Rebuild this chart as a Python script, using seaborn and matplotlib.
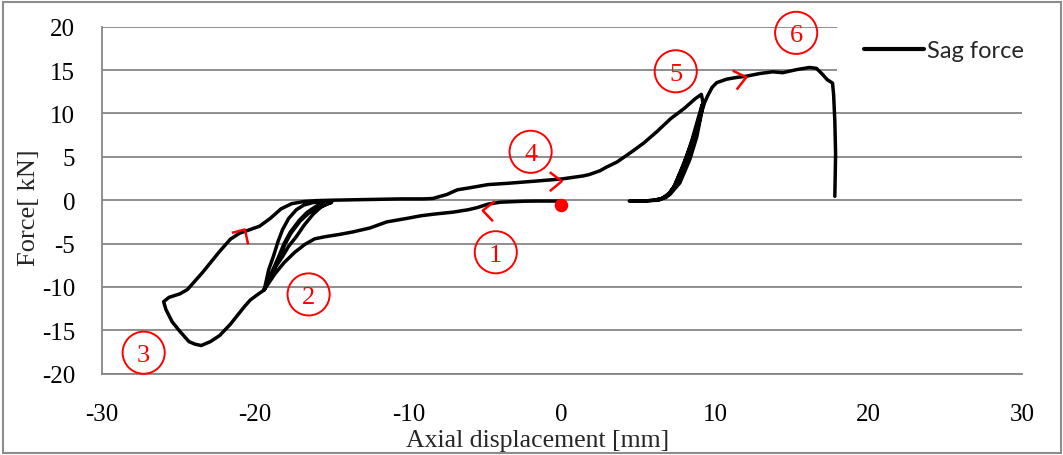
import matplotlib
matplotlib.use("Agg")
import matplotlib.pyplot as plt
import seaborn as sns
import pandas as pd
from matplotlib.patches import Rectangle

# Load path of the sag test: axial displacement [mm] and force [kN], in test order
disp = [
    0.0, -1.7, -2.5, -4.0, -4.8, -5.5, -6.1, -7.1, -8.3, -9.2, -10.1, -11.4, -12.5,
    -13.6, -14.5, -15.4, -16.1, -16.75, -17.4, -18.1, -18.7, -19.15, -19.4,
    # small unload / reload cycles near step 2
    -19.3, -19.1, -18.8, -18.5, -18.2, -17.8, -17.3, -16.8, -16.2, -15.5,
    -15.7, -16.1, -16.6, -17.1, -17.7, -18.1, -18.45, -18.9, -19.4,
    -19.1, -18.7, -18.2, -17.8, -17.3, -16.8, -16.2, -15.7, -15.3, -15.0,
    -15.4, -15.9, -16.5, -17.05, -17.65, -18.05, -18.4, -18.85, -19.4,
    # push on to step 3 and return
    -19.84, -20.3, -20.7, -21.2, -21.6, -22.3, -22.9, -23.5, -23.9, -24.3, -24.9,
    -25.4, -25.8, -25.95, -25.6, -24.9, -24.4, -24.0, -23.4, -22.9, -22.3, -21.6,
    -21.0, -20.5, -19.7, -19.0, -18.3, -17.6, -16.8, -16.0, -15.0, -13.6, -12.0,
    -10.5, -9.0, -8.4, -7.5, -6.8, -6.1, -4.8, -3.5, -1.7, 0.0, 1.4, 1.8, 2.5, 2.9,
    3.6, 4.5, 5.35, 6.2, 7.1, 8.0, 8.7, 9.1,
    # unload / reload cycles near step 5
    9.2, 9.15, 8.8, 8.35, 7.7, 7.05, 6.4, 5.5, 4.4,
    5.4, 6.3, 6.9, 7.4, 8.0, 8.5, 8.9, 9.15,
    9.0, 8.7, 8.2, 7.6, 7.0, 6.5, 6.0,
    6.8, 7.3, 7.85, 8.4, 8.9, 9.3, 9.5, 9.8, 10.1, 10.75, 11.4, 12.05, 12.9,
    13.75, 14.4, 15.3, 16.15, 16.6, 17.0, 17.3, 17.65, 17.72, 17.8, 17.85, 17.8,
]
force = [
    -0.1, -0.1, -0.12, -0.23, -0.45, -0.85, -1.1, -1.38, -1.6, -1.8, -2.1, -2.5, -3.2,
    -3.65, -3.95, -4.2, -4.45, -5.1, -6.0, -7.2, -8.5, -9.7, -10.35,
    -9.6, -8.0, -6.5, -4.8, -3.4, -2.1, -1.1, -0.55, -0.27, -0.15,
    -0.4, -0.8, -1.4, -2.3, -3.7, -5.0, -6.5, -8.3, -10.35,
    -9.3, -7.8, -6.5, -5.3, -4.2, -2.9, -1.6, -0.8, -0.45, -0.25,
    -0.5, -0.9, -1.5, -2.4, -3.8, -5.1, -6.6, -8.4, -10.35,
    -10.9, -11.5, -12.3, -13.4, -14.3, -15.6, -16.3, -16.75, -16.6, -16.3, -15.1,
    -14.0, -12.6, -11.7, -11.2, -10.8, -10.3, -9.5, -8.3, -7.2, -5.9, -4.5,
    -3.8, -3.5, -3.0, -2.1, -1.0, -0.4, -0.15, -0.05, 0.0, 0.05, 0.1,
    0.15, 0.15, 0.2, 0.65, 1.2, 1.4, 1.8, 1.95, 2.2, 2.45, 2.8, 2.96, 3.4, 3.8,
    4.4, 5.5, 6.6, 7.9, 9.4, 10.6, 11.7, 12.2,
    11.3, 10.4, 7.3, 4.7, 2.0, 0.66, 0.08, -0.08, -0.1,
    -0.08, 0.0, 0.5, 1.8, 4.3, 7.0, 9.5, 11.0,
    9.3, 7.1, 4.5, 2.1, 0.8, 0.15, 0.0,
    0.3, 1.5, 3.8, 6.3, 8.9, 11.2, 12.0, 13.0, 13.55, 13.95, 14.15, 14.3, 14.6,
    14.8, 14.7, 15.05, 15.3, 15.2, 14.5, 13.9, 13.5, 12.2, 9.1, 5.3, 0.45,
]
series_name = "Sag force"

# Step markers (circled numbers) and direction chevrons
step_labels = ["1", "2", "3", "4", "5", "6"]
step_x = [-4.3, -16.5, -27.25, -2.03, 7.43, 15.28]
step_y = [-6.0, -10.86, -17.58, 5.58, 14.86, 19.29]
chevrons = [
    ([-4.36, -5.15, -4.49], [-0.12, -1.19, -2.42]),
    ([-21.5, -20.65, -20.44], [-3.76, -3.38, -5.1]),
    ([-0.78, 0.0, -0.78], [3.23, 2.19, 1.04]),
    ([11.14, 12.03, 11.4], [14.94, 14.17, 12.75]),
]
start_x, start_y = -0.07, -0.5

x_ticks = [-30, -20, -10, 0, 10, 20, 30]
y_ticks = [-20, -15, -10, -5, 0, 5, 10, 15, 20]

sns.set_theme(style="white")
plt.rcParams["font.family"] = ["Liberation Serif", "DejaVu Serif"]
plt.rcParams["axes.unicode_minus"] = False

W, H = 1063, 456
fig = plt.figure(figsize=(W / 100, H / 100), dpi=100)
ax = fig.add_axes([101.5 / W, 1 - 374.7 / H, (1022 - 101.5) / W, (374.7 - 27.7) / H])

df = pd.DataFrame({"disp": disp, "force": force})
sns.lineplot(data=df, x="disp", y="force", sort=False, estimator=None,
             color="black", lw=2.5, label=series_name, ax=ax, zorder=3)

grey = "#868686"
ax.set_xlim(-30, 30)
ax.set_ylim(-20, 20)
ax.set_xticks(x_ticks)
ax.set_yticks(y_ticks)
ax.yaxis.grid(True, color=grey, lw=1.3)
ax.xaxis.grid(False)
for side in ("top", "right"):
    ax.spines[side].set_visible(False)
for side in ("left", "bottom"):
    ax.spines[side].set_color(grey)
    ax.spines[side].set_linewidth(1.3)
ax.tick_params(axis="both", which="major", direction="out", length=6, width=1.3,
               color=grey, labelsize=18, labelcolor="black")
ax.tick_params(axis="x", pad=15)
ax.tick_params(axis="y", pad=13)
ax.set_xlabel("Axial displacement [mm]", fontsize=18.5)
ax.set_ylabel("Force[ kN]", fontsize=19)
ax.xaxis.set_label_coords(0.474, -0.19)
ax.xaxis.label.set_va("center")
ax.yaxis.set_label_coords(-0.079, 0.48)
ax.yaxis.label.set_va("center")
ax.yaxis.label.set_ha("center")

# step circles and numbers
ax.scatter(step_x, step_y, s=920, facecolors="none", edgecolors="red",
           linewidths=1.4, clip_on=False, zorder=4)
for lab, sx, sy in zip(step_labels, step_x, step_y):
    ax.text(sx, sy, lab, color="red", fontsize=19, ha="center", va="center_baseline",
            zorder=5, clip_on=False)
for cx, cy in chevrons:
    ax.plot(cx, cy, color="red", lw=1.8, zorder=4, solid_capstyle="butt")
ax.scatter([start_x], [start_y], s=95, color="red", zorder=5, linewidths=0)

leg = ax.legend(loc="upper left", bbox_to_anchor=(837 / W, 1 - 14 / H),
                bbox_transform=fig.transFigure, borderaxespad=0, borderpad=1.15,
                handlelength=2.55, handletextpad=0.1, frameon=True, fancybox=False,
                prop={"family": "Lato", "size": 17})
leg.get_frame().set_facecolor("white")
leg.get_frame().set_edgecolor("none")
leg.get_frame().set_alpha(1)
for line in leg.get_lines():
    line.set_linewidth(3)

fig.patches.append(Rectangle((2.5 / W, 2.5 / H), (W - 5) / W, (H - 5) / H,
                             transform=fig.transFigure, fill=False,
                             edgecolor="#8c8c8c", lw=1.5))

fig.savefig("out.png", dpi=100)
